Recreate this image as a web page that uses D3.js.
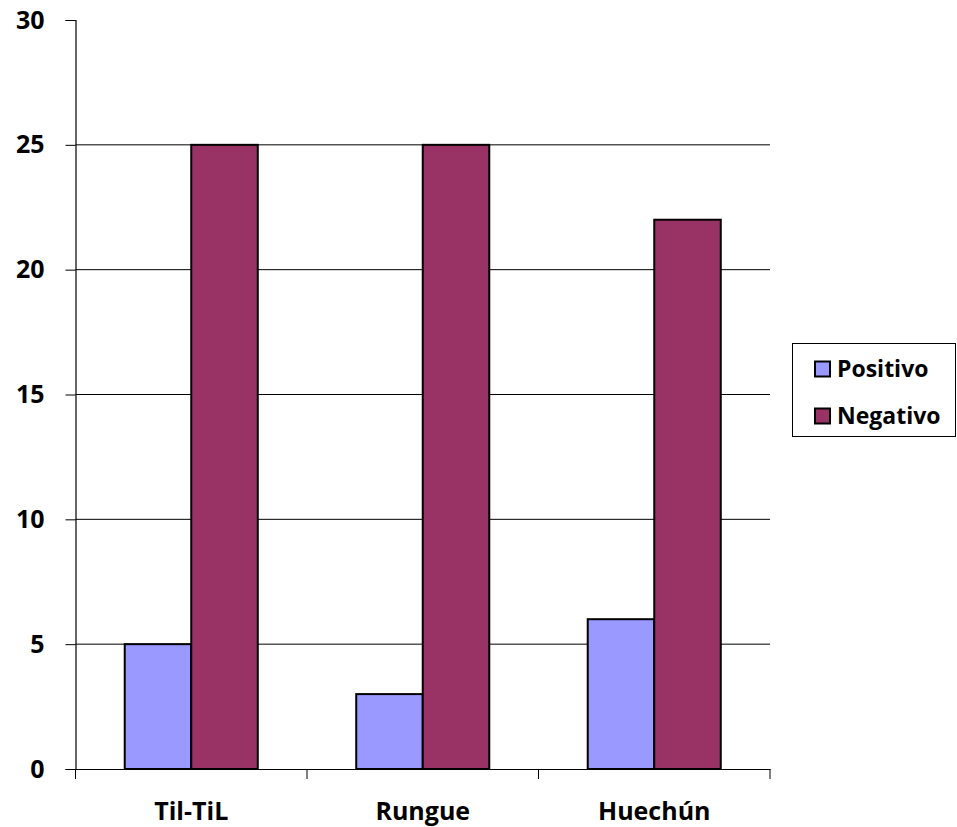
<!DOCTYPE html>
<html>
<head>
<meta charset="utf-8">
<script src="https://cdn.jsdelivr.net/npm/d3@7"></script>
<style>
  html, body { margin: 0; padding: 0; background: #fff; }
  svg { display: block; font-family: "Open Sans", "Liberation Sans", sans-serif; font-weight: bold; }
</style>
</head>
<body>
<svg id="chart" width="957" height="827"></svg>
<script>
// Results per locality
const categories = ["Til-TiL", "Rungue", "Huechún"];
const seriesNames = ["Positivo", "Negativo"];
const positivo = [5, 3, 6];
const negativo = [25, 25, 22];
const yTicks = [0, 5, 10, 15, 20, 25, 30];
const colors = ["#9999FF", "#993366"];

const svg = d3.select("#chart");
const plot = { left: 75.5, right: 770, top: 20, bottom: 769 };

const x = d3.scaleBand().domain(categories).range([plot.left, plot.right]).paddingInner(0).paddingOuter(0);
const x1 = d3.scaleBand().domain(seriesNames).range([0, x.bandwidth()]).paddingInner(0).paddingOuter(0.74);
const y = d3.scaleLinear().domain([0, 30]).range([plot.bottom, plot.top]);

// Horizontal grid lines
svg.append("g")
  .selectAll("line")
  .data(yTicks.filter(t => t > 0 && t < 30))
  .join("line")
  .attr("x1", plot.left).attr("x2", plot.right)
  .attr("y1", d => y(d)).attr("y2", d => y(d))
  .attr("stroke", "#000").attr("stroke-width", 1);

// Bars
const rows = categories.map((c, i) => ({ cat: c, values: [positivo[i], negativo[i]] }));
const groups = svg.append("g")
  .selectAll("g")
  .data(rows)
  .join("g")
  .attr("transform", d => `translate(${x(d.cat)},0)`);
groups.selectAll("rect")
  .data(d => d.values.map((v, k) => ({ name: seriesNames[k], v, k })))
  .join("rect")
  .attr("x", d => x1(d.name))
  .attr("width", x1.bandwidth())
  .attr("y", d => y(d.v))
  .attr("height", d => y(0) - y(d.v))
  .attr("fill", d => colors[d.k])
  .attr("stroke", "#000").attr("stroke-width", 2);

// Y axis
const yAxis = svg.append("g")
  .attr("transform", `translate(${plot.left},0)`)
  .call(d3.axisLeft(y).tickValues(yTicks).tickSize(10).tickPadding(21).tickFormat(d3.format("d")));
yAxis.select(".domain").attr("stroke", "#000").attr("stroke-width", 1.2);
yAxis.selectAll(".tick line").attr("stroke", "#000");
yAxis.selectAll(".tick text")
  .attr("font-size", 25).attr("font-weight", "bold").attr("fill", "#000")
  .attr("font-family", "'Open Sans', sans-serif");

// X axis
const xAxis = svg.append("g")
  .attr("transform", `translate(0,${plot.bottom})`)
  .call(d3.axisBottom(x).tickSize(0).tickPadding(0));
xAxis.select(".domain").attr("stroke", "#000").attr("stroke-width", 1.2);
xAxis.selectAll(".tick text")
  .attr("y", 51).attr("dy", null)
  .attr("font-size", 25).attr("font-weight", "bold").attr("fill", "#000")
  .attr("font-family", "'Open Sans', sans-serif");
// Category boundary ticks
const bounds = categories.map(c => x(c)).concat([x(categories[categories.length - 1]) + x.bandwidth()]);
svg.append("g")
  .selectAll("line")
  .data(bounds)
  .join("line")
  .attr("x1", d => d).attr("x2", d => d)
  .attr("y1", plot.bottom).attr("y2", plot.bottom + 10)
  .attr("stroke", "#000").attr("stroke-width", 1);

// Legend
const legend = svg.append("g");
legend.append("rect")
  .attr("x", 792.5).attr("y", 343.5).attr("width", 163).attr("height", 93)
  .attr("fill", "#fff").attr("stroke", "#000").attr("stroke-width", 1);
const items = legend.selectAll("g.item")
  .data(seriesNames)
  .join("g").attr("class", "item")
  .attr("transform", (d, i) => `translate(815,${369 + i * 47})`);
items.append("rect")
  .attr("x", 0).attr("y", -7.5).attr("width", 15).attr("height", 15)
  .attr("fill", (d, i) => colors[i]).attr("stroke", "#000").attr("stroke-width", 2);
items.append("text")
  .attr("x", 22).attr("y", 0).attr("dy", "0.35em")
  .attr("font-size", 23).attr("font-weight", "bold").attr("fill", "#000")
  .text(d => d);
</script>
</body>
</html>
